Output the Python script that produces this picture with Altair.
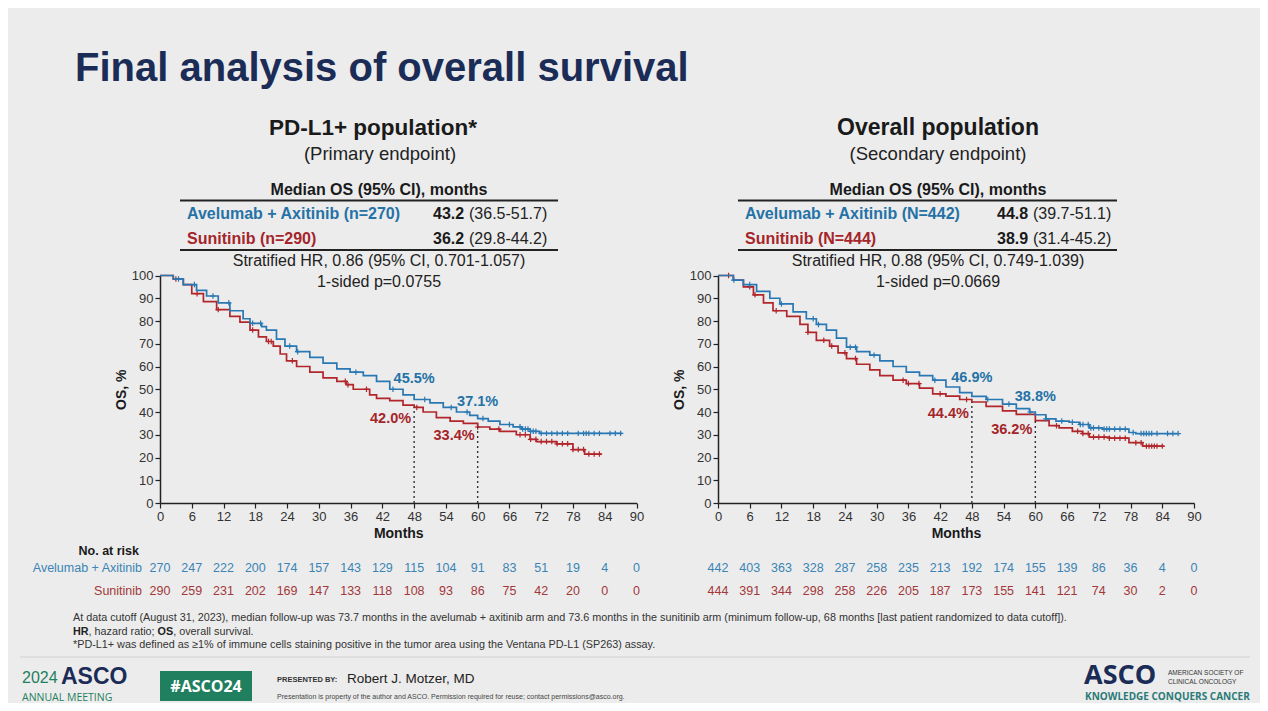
import altair as alt
import pandas as pd

FONT = "Liberation Sans"
BG = "#ececec"
BLUE = "#2a78b3"
RED = "#b1262b"
BLUE_T = "#2572a6"
RED_T = "#a4252a"
BLUE_N = "#3b84b4"
RED_N = "#a2383a"
NAVY = "#1b2c57"
GREEN = "#1f7f5e"
INK = "#1a1a1a"

# ---------------- data ----------------
X_TICKS = list(range(0, 91, 6))
Y_TICKS = list(range(0, 101, 10))
RISK_MONTHS = list(range(0, 91, 6))

# PD-L1+ population: Avelumab + Axitinib
L_AA_T = [0, 2.5, 4.4, 6.9, 8.8, 11, 13.2, 15.7, 17, 19.2, 20.1, 22, 23.6, 25.8, 28.3, 30.8,
          33.4, 35.9, 38.4, 40.9, 43.4, 45.9, 48, 51, 53.5, 56, 58.5, 60, 62, 64.2, 66.7,
          68.3, 69.9, 71.7, 87.2]
L_AA_S = [100, 98.5, 96, 93.5, 91, 88, 84.5, 81, 79, 77.5, 76, 72, 69, 66.5, 64, 61.5,
          59, 57.5, 56, 53.5, 50, 47.5, 45.5, 44, 42, 40, 38.5, 37.1, 36, 34.5, 33.5,
          32.5, 31.5, 30.6, 30.6]
# PD-L1+ population: Sunitinib
L_SU_T = [0, 2.5, 4.4, 6, 8.2, 10.7, 13.2, 15.1, 17, 18.6, 20.1, 21.4, 22.7, 23.9, 25.8, 28.3,
          30.8, 33.4, 35.2, 36.5, 39.6, 40.9, 43.4, 45.9, 48, 49.7, 52.2, 54.8, 57.3, 60,
          62.3, 64.2, 67.3, 69.9, 71.1, 74.9, 78, 80.2, 83.4]
L_SU_S = [100, 98.5, 96, 92, 88.5, 85, 82, 79.5, 76, 73, 71, 69, 65.5, 62.5, 60, 57.5,
          55, 53.5, 52, 50, 47.5, 46, 45, 43, 42.0, 40, 37.5, 36, 35, 33.4,
          32.5, 31.5, 30, 28, 27, 26, 23.5, 21.5, 21.5]
# Overall population: Avelumab + Axitinib
R_AA_T = [0, 2.9, 4.8, 7.3, 9.8, 11.7, 14.2, 16.7, 18.6, 20.5, 22.4, 24.3, 26.2, 28.7, 30.6,
          33.1, 35.6, 38.1, 40.6, 43.1, 45.7, 48, 50.7, 53.8, 56.4, 58.9, 60, 62, 63.9, 66.4,
          68.3, 70.2, 72.7, 77.7, 79, 86.9]
R_AA_S = [100, 98, 96, 93, 90, 87.5, 84, 81, 78.5, 76, 72.5, 68.5, 66.5, 65, 62.5,
          60, 57.5, 56, 54, 51, 48.5, 46.9, 45.5, 43.5, 41.5, 40, 38.8, 37, 36, 35.5,
          34.5, 33, 32.5, 31, 30.5, 30.5]
# Overall population: Sunitinib
R_SU_T = [0, 2.9, 4.8, 6.7, 8.6, 10.4, 13, 15.5, 17, 18.6, 21.1, 22.7, 24.3, 26.2, 28.7,
          30.6, 33.1, 35.6, 38.1, 40.6, 43.1, 45.7, 48, 50.7, 53.8, 56.4, 60, 62.6, 64.5,
          67, 68.9, 70.2, 74, 77.7, 80.3, 84.3]
R_SU_S = [100, 98, 95, 91.5, 88, 84.5, 82, 78.5, 75, 71.5, 69, 66, 63.5, 61, 58.5,
          56, 54, 52.5, 50.5, 48, 47, 45.5, 44.4, 42.5, 40.5, 39, 36.2, 34, 33,
          31.5, 30.5, 29, 28.5, 26.5, 25, 25]

# censoring times (months)
L_AA_C = [3.5, 6.5, 10, 13, 17.5, 19, 24.5, 26, 37, 44, 50, 55, 58, 61, 66, 68, 68.5, 69,
          69.5, 70, 70.5, 71, 72, 73, 74, 75, 76, 77, 79, 80, 80.5, 81, 82, 83, 85, 86, 87]
L_SU_C = [3, 7, 11, 17.5, 20.5, 21, 25, 35, 35.5, 39, 48.5, 60, 64, 68, 69, 70, 71, 72,
          73, 74, 75, 76, 77, 78, 79, 80, 81, 82, 83]
R_AA_C = [3, 6, 12, 18, 19, 25, 26, 29.5, 41, 51, 55, 59, 62, 65, 67, 68.5, 69, 70, 70.5,
          71, 72, 73, 73.5, 74, 75, 76, 77, 78.5, 80, 80.5, 81, 81.5, 82, 83, 85, 86, 87]
R_SU_C = [2, 6, 7, 11, 17, 20, 21.5, 24, 26, 35, 36, 38, 42, 47, 64, 68, 69, 70, 71, 72,
          73, 74, 75, 76, 77, 79, 80, 81, 81.5, 82, 82.5, 83, 84]

# numbers at risk
L_AA_RISK = [270, 247, 222, 200, 174, 157, 143, 129, 115, 104, 91, 83, 51, 19, 4, 0]
L_SU_RISK = [290, 259, 231, 202, 169, 147, 133, 118, 108, 93, 86, 75, 42, 20, 0, 0]
R_AA_RISK = [442, 403, 363, 328, 287, 258, 235, 213, 192, 174, 155, 139, 86, 36, 4, 0]
R_SU_RISK = [444, 391, 344, 298, 258, 226, 205, 187, 173, 155, 141, 121, 74, 30, 2, 0]

# landmark rates
LANDMARK_M = [48, 60]
L_AA_LM = [45.5, 37.1]
L_SU_LM = [42.0, 33.4]
R_AA_LM = [46.9, 38.8]
R_SU_LM = [44.4, 36.2]

# ---------------- layout (page pixels; chart starts at 8,8) ----------------
W, H = 1252, 695
OX, OY = 8, 8
Y_RANGE = [503 - OY, 275.5 - OY]
L_XRANGE = [160 - OX, 636.5 - OX]
R_XRANGE = [718 - OX, 1194 - OX]

DUMMY = pd.DataFrame({"d": [0]})


def step_at(ts, ss, c):
    v = ss[0]
    for t, s in zip(ts, ss):
        if t <= c:
            v = s
    return v


def txt(text, x, y, size=12, weight="normal", color=INK, align="left", font=FONT, baseline="middle"):
    kw = dict(text=text, align=align, baseline=baseline, fontSize=size, fontWeight=weight,
              color=color, font=font)
    return alt.Chart(DUMMY).mark_text(**kw).encode(x=alt.value(x - OX), y=alt.value(y - OY))


def hline(x1, x2, y, color="#222", width=1.5):
    return alt.Chart(DUMMY).mark_rule(color=color, strokeWidth=width).encode(
        x=alt.value(x1 - OX), x2=alt.value(x2 - OX), y=alt.value(y - OY))


def panel(xrange, aa_t, aa_s, su_t, su_s, aa_c, su_c, aa_risk, su_risk, aa_lm, su_lm, lm_dy):
    xs = alt.Scale(domain=[0, 90], range=xrange, nice=False, zero=False)
    ys = alt.Scale(domain=[0, 100], range=Y_RANGE, nice=False)
    xax = alt.Axis(values=X_TICKS, orient="bottom", offset=Y_RANGE[0] - H, title="Months",
                   titleFontWeight="bold", titleFontSize=14, titleFont=FONT, titleColor=INK,
                   titlePadding=3, labelFont=FONT, labelFontSize=13, labelColor="#333",
                   tickSize=5, tickColor="#222", domainColor="#222", domainWidth=1.5,
                   tickWidth=1.2, grid=False, labelOverlap=False, labelFlush=False,
                   labelPadding=2)
    yax = alt.Axis(values=Y_TICKS, orient="left", offset=-xrange[0], title="OS, %",
                   titleFontWeight="bold", titleFontSize=14, titleFont=FONT, titleColor=INK,
                   titlePadding=3, labelFont=FONT, labelFontSize=13, labelColor="#333",
                   tickSize=5, tickColor="#222", domainColor="#222", domainWidth=1.5,
                   tickWidth=1.2, grid=False, labelOverlap=False, labelPadding=2)
    X = alt.X("month:Q", scale=xs, axis=xax)
    Y = alt.Y("pct:Q", scale=ys, axis=yax)

    layers = []
    for ts, ss, cs, col in [(su_t, su_s, su_c, RED), (aa_t, aa_s, aa_c, BLUE)]:
        df = pd.DataFrame({"month": ts, "pct": ss})
        layers.append(alt.Chart(df).mark_line(interpolate="step-after", color=col,
                                              strokeWidth=1.7).encode(x=X, y=Y))
        cdf = pd.DataFrame({"month": cs, "pct": [step_at(ts, ss, c) for c in cs]})
        layers.append(alt.Chart(cdf).mark_point(shape="M-1,0L1,0M0,-1L0,1", size=30,
                                                filled=False, color=col, strokeWidth=1.2,
                                                opacity=1).encode(x=X, y=Y))
    rdf = pd.DataFrame({"month": LANDMARK_M, "pct": [0, 0], "pct2": su_lm})
    layers.append(alt.Chart(rdf).mark_rule(color="#333", strokeDash=[2, 3], strokeWidth=1.4)
                  .encode(x=X, y=Y, y2="pct2:Q"))
    for i, m in enumerate(LANDMARK_M):
        d = pd.DataFrame({"month": [m], "pct": [aa_lm[i]], "lab": [f"{aa_lm[i]:.1f}%"]})
        layers.append(alt.Chart(d).mark_text(font=FONT, fontSize=14.5, fontWeight="bold",
                                             color=BLUE_T, align="center", dy=lm_dy[0][i])
                      .encode(x=X, y=Y, text="lab:N"))
        d2 = pd.DataFrame({"month": [m], "pct": [su_lm[i]], "lab": [f"{su_lm[i]:.1f}%"]})
        layers.append(alt.Chart(d2).mark_text(font=FONT, fontSize=14.5, fontWeight="bold",
                                              color=RED_T, align="right", dx=-3, dy=lm_dy[1][i])
                      .encode(x=X, y=Y, text="lab:N"))
    for risk, col, yy in [(aa_risk, BLUE_N, 568), (su_risk, RED_N, 591)]:
        d = pd.DataFrame({"month": RISK_MONTHS, "n": risk})
        layers.append(alt.Chart(d).mark_text(font=FONT, fontSize=12.5, color=col, align="center")
                      .encode(x=X, y=alt.value(yy - OY), text="n:Q"))
    return alt.layer(*layers)


left = panel(L_XRANGE, L_AA_T, L_AA_S, L_SU_T, L_SU_S, L_AA_C, L_SU_C, L_AA_RISK, L_SU_RISK,
             L_AA_LM, L_SU_LM, lm_dy=([-20, -17], [12, 9]))
right = panel(R_XRANGE, R_AA_T, R_AA_S, R_SU_T, R_SU_S, R_AA_C, R_SU_C, R_AA_RISK, R_SU_RISK,
              R_AA_LM, R_SU_LM, lm_dy=([-18, -18], [12, 9]))

TS = 16  # table font size
FN = 10.8  # footnote font size
texts = [
    txt("Final analysis of overall survival", 75, 69, size=40, weight="bold", color=NAVY),
    # left header
    txt("PD-L1+ population*", 373, 128, size=22.5, weight="bold", align="center"),
    txt("(Primary endpoint)", 380, 154, size=18.5, align="center", color="#222"),
    txt("Median OS (95% CI), months", 379, 190, size=TS, weight="bold", align="center"),
    hline(180, 558, 200.5, width=2),
    txt("Avelumab + Axitinib (n=270)", 187, 214, size=TS, weight="bold", color=BLUE_T),
    txt("43.2", 433, 214, size=TS, weight="bold"),
    txt("(36.5-51.7)", 469, 214, size=TS, color="#222"),
    txt("Sunitinib (n=290)", 187, 239, size=TS, weight="bold", color=RED_T),
    txt("36.2", 433, 239, size=TS, weight="bold"),
    txt("(29.8-44.2)", 469, 239, size=TS, color="#222"),
    hline(180, 558, 250, width=2),
    txt("Stratified HR, 0.86 (95% CI, 0.701-1.057)", 379, 261, size=TS, align="center", color="#222"),
    txt("1-sided p=0.0755", 379, 282, size=TS, align="center", color="#222"),
    # right header
    txt("Overall population", 938, 128, size=23, weight="bold", align="center"),
    txt("(Secondary endpoint)", 938, 154, size=18.5, align="center", color="#222"),
    txt("Median OS (95% CI), months", 938, 190, size=TS, weight="bold", align="center"),
    hline(738, 1117, 200.5, width=2),
    txt("Avelumab + Axitinib (N=442)", 745, 214, size=TS, weight="bold", color=BLUE_T),
    txt("44.8", 997, 214, size=TS, weight="bold"),
    txt("(39.7-51.1)", 1033, 214, size=TS, color="#222"),
    txt("Sunitinib (N=444)", 745, 239, size=TS, weight="bold", color=RED_T),
    txt("38.9", 997, 239, size=TS, weight="bold"),
    txt("(31.4-45.2)", 1033, 239, size=TS, color="#222"),
    hline(738, 1117, 250, width=2),
    txt("Stratified HR, 0.88 (95% CI, 0.749-1.039)", 938, 261, size=TS, align="center", color="#222"),
    txt("1-sided p=0.0669", 938, 282, size=TS, align="center", color="#222"),
    # at-risk labels
    txt("No. at risk", 139, 551, size=12.5, weight="bold", align="right"),
    txt("Avelumab + Axitinib", 142, 568, size=12.5, align="right", color=BLUE_N),
    txt("Sunitinib", 142, 591, size=12.5, align="right", color=RED_N),
    # footnotes
    txt("At data cutoff (August 31, 2023), median follow-up was 73.7 months in the avelumab + axitinib arm "
        "and 73.6 months in the sunitinib arm (minimum follow-up, 68 months [last patient randomized to data cutoff]).",
        73, 618, size=FN, color="#333"),
    txt("HR", 73, 632, size=FN, weight="bold", color="#222"),
    txt(", hazard ratio; ", 88.6, 632, size=FN, color="#333"),
    txt("OS", 157.6, 632, size=FN, weight="bold", color="#222"),
    txt(", overall survival.", 173.2, 632, size=FN, color="#333"),
    txt("*PD-L1+ was defined as \u22651% of immune cells staining positive in the tumor area using the "
        "Ventana PD-L1 (SP263) assay.", 73, 645, size=FN, color="#333"),
    hline(20, 1250, 657, color="#d0d0d0", width=1),
    # footer logos
    txt("2024", 22, 678, size=16, color=GREEN),
    txt("ASCO", 61, 684, size=23, weight="bold", color=NAVY, font="Liberation Sans", baseline="alphabetic"),
    txt("ANNUAL MEETING", 22, 701, size=10.5, color=GREEN, font="Open Sans", baseline="alphabetic"),
    alt.Chart(DUMMY).mark_rect(color=GREEN).encode(
        x=alt.value(160 - OX), x2=alt.value(252 - OX), y=alt.value(671 - OY), y2=alt.value(701 - OY)),
    txt("#ASCO24", 206, 686.5, size=16, weight="bold", color="white", align="center", font="Open Sans"),
    txt("PRESENTED BY:", 277, 680, size=7.5, weight="bold", color="#333"),
    txt("Robert J. Motzer, MD", 347, 679, size=13.5, color="#222"),
    txt("Presentation is property of the author and ASCO. Permission required for reuse; contact permissions@asco.org.",
        277, 699, size=7, color="#444", baseline="alphabetic"),
    txt("ASCO", 1084, 676, size=27, weight="bold", color=NAVY, font="Open Sans"),
    txt("AMERICAN SOCIETY OF", 1168, 673, size=6.5, color="#333"),
    txt("CLINICAL ONCOLOGY", 1168, 682, size=6.5, color="#333"),
    txt("KNOWLEDGE CONQUERS CANCER", 1085, 700, size=10, weight="bold", color="#2a7a78",
        font="Open Sans", baseline="alphabetic"),
]

chart = alt.layer(left, right, *texts).resolve_scale(x="independent", y="independent").properties(
    width=W, height=H, autosize=alt.AutoSizeParams(type="none"), padding=0
).configure(background=BG).configure_view(stroke="transparent")

chart.save("out.html", embed_options={"renderer": "svg", "actions": False})
